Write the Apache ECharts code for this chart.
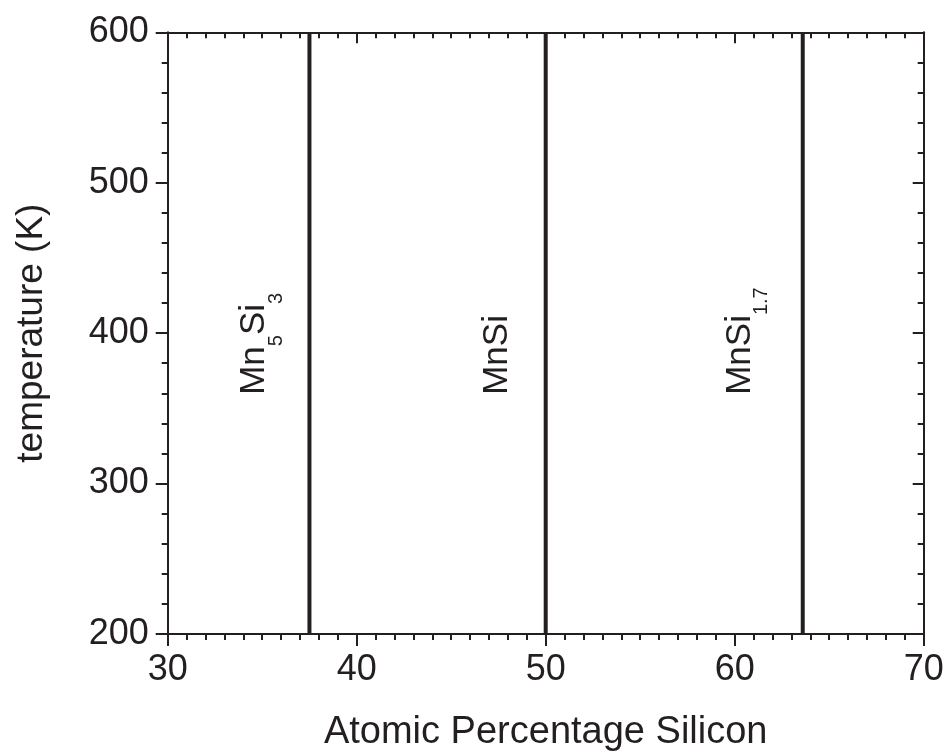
<!DOCTYPE html>
<html>
<head>
<meta charset="utf-8">
<script src="https://cdn.jsdelivr.net/npm/echarts@6/dist/echarts.min.js"></script>
<style>
  html, body { margin: 0; padding: 0; background: #fff; }
  #chart { width: 948px; height: 751px; }
</style>
</head>
<body>
<div id="chart"></div>
<script>
// Phase boundaries of the Mn–Si system (atomic % Si) over the temperature window
const phaseNames = ['Mn5Si3', 'MnSi', 'MnSi1.7'];
const phaseBoundaryX = [37.5, 50, 63.6];
const tempRange = [200, 600];

// Phase labels: rich-text strings and their anchor points (at % Si, K)
const phaseLabelText = ['{m|Mn}{s|5}{m|Si}{s|3}', '{m|MnSi}', '{m|MnSi}{s|1.7}'];
const phaseLabelX = [34.6, 47.45, 60.3];
const phaseLabelY = [359, 359, 359];

// Axis ranges and tick steps
const xRange = [30, 70];
const xStep = 10;
const yRange = [200, 600];
const yStep = 100;

const ink = '#231f20';
const font = 'Liberation Sans, Arial, Helvetica, sans-serif';

const chart = echarts.init(document.getElementById('chart'), null, { renderer: 'canvas' });

function axisBase(extra) {
  return Object.assign({
    type: 'value',
    axisLine: { show: true, onZero: false, lineStyle: { color: ink, width: 2 } },
    splitLine: { show: false },
    axisTick: { show: true, length: 12, lineStyle: { color: ink, width: 2 } },
    minorTick: { show: true, length: 6, lineStyle: { color: ink, width: 2 } },
  }, extra);
}

const boundarySeries = phaseBoundaryX.map((x, i) => ({
  name: phaseNames[i],
  type: 'line',
  xAxisIndex: 0,
  yAxisIndex: 0,
  data: tempRange.map(t => [x, t]),
  symbol: 'none',
  lineStyle: { color: ink, width: 4 },
  silent: true,
  z: 3
}));

// Main formula text sits at the top of the line box; subscripts are pushed
// below the main baseline with top padding.
const mainText = { fontFamily: font, fontSize: 35, lineHeight: 35, color: ink, verticalAlign: 'top', textBorderWidth: 0 };
const subText = { fontFamily: font, fontSize: 20, lineHeight: 20, color: ink, verticalAlign: 'top', padding: [29, 0, 0, 0], textBorderWidth: 0 };

const labelSeries = {
  type: 'scatter',
  xAxisIndex: 0,
  yAxisIndex: 0,
  symbolSize: 0,
  silent: true,
  itemStyle: { color: ink, opacity: 1 },
  data: phaseLabelX.map((x, i) => ({
    value: [x, phaseLabelY[i]],
    label: {
      show: true,
      position: 'inside',
      rotate: 90,
      align: 'left',
      verticalAlign: 'middle',
      color: ink,
      opacity: 1,
      textBorderWidth: 0,
      textBorderColor: 'transparent',
      formatter: phaseLabelText[i],
      rich: { m: mainText, s: subText }
    }
  }))
};

chart.setOption({
  animation: false,
  backgroundColor: '#fff',
  grid: { left: 167.7, right: 24.3, top: 32.3, bottom: 117, containLabel: false, outerBoundsMode: 'none' },
  xAxis: [
    axisBase({
      position: 'bottom',
      min: xRange[0], max: xRange[1], interval: xStep,
      minorTick: { show: true, splitNumber: 10, length: 6, lineStyle: { color: ink, width: 2 } },
      axisTick: { show: true, inside: false, length: 12, lineStyle: { color: ink, width: 2 } },
      axisLabel: { show: true, margin: 18, color: ink, fontFamily: font, fontSize: 36 },
      name: 'Atomic Percentage Silicon',
      nameLocation: 'middle',
      nameGap: 80,
      nameTextStyle: { color: ink, fontFamily: font, fontSize: 38 }
    }),
    axisBase({
      position: 'top',
      min: xRange[0], max: xRange[1], interval: xStep,
      minorTick: { show: true, splitNumber: 10, length: 6, lineStyle: { color: ink, width: 2 } },
      axisTick: { show: true, inside: true, length: 11, lineStyle: { color: ink, width: 2 } },
      axisLabel: { show: false }
    })
  ],
  yAxis: [
    axisBase({
      position: 'left',
      min: yRange[0], max: yRange[1], interval: yStep,
      minorTick: { show: true, splitNumber: 5, length: 6, lineStyle: { color: ink, width: 2 } },
      axisTick: { show: true, inside: false, length: 12, lineStyle: { color: ink, width: 2 } },
      axisLabel: { show: true, margin: 19, color: ink, fontFamily: font, fontSize: 36 },
      name: 'temperature (K)',
      nameLocation: 'middle',
      nameGap: 117,
      nameRotate: 90,
      nameTextStyle: { color: ink, fontFamily: font, fontSize: 37 }
    }),
    axisBase({
      position: 'right',
      min: yRange[0], max: yRange[1], interval: yStep,
      minorTick: { show: true, splitNumber: 5, length: 6, lineStyle: { color: ink, width: 2 } },
      axisTick: { show: true, inside: true, length: 11, lineStyle: { color: ink, width: 2 } },
      axisLabel: { show: false }
    })
  ],
  series: boundarySeries.concat([labelSeries])
});
</script>
</body>
</html>
